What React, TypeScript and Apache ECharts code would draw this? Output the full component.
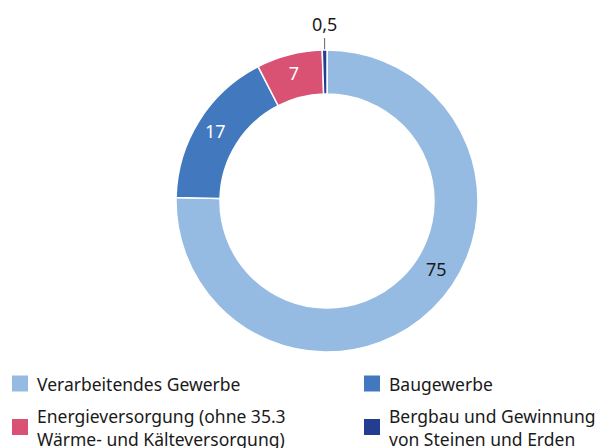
import React, { useEffect, useRef } from "react";
import * as echarts from "echarts";

const categories = [
  "Verarbeitendes Gewerbe",
  "Baugewerbe",
  "Energieversorgung (ohne 35.3 Wärme- und Kälteversorgung)",
  "Bergbau und Gewinnung von Steinen und Erden",
];
const legendLabels = [
  "Verarbeitendes Gewerbe",
  "Baugewerbe",
  "Energieversorgung (ohne 35.3\nWärme- und Kälteversorgung)",
  "Bergbau und Gewinnung\nvon Steinen und Erden",
];
const values = [75, 17, 7, 0.5];
const valueLabels = ["75", "17", "7", "0,5"];
const colors = ["#95BBE3", "#4178BE", "#D95173", "#233D91"];
const labelColors = ["#1a1a1a", "#ffffff", "#ffffff", "#1a1a1a"];

const FONT = "'Noto Sans', 'Open Sans', sans-serif";

export default function App() {
  const ref = useRef<HTMLDivElement>(null);
  useEffect(() => {
    if (!ref.current) return;
    const chart = echarts.init(ref.current, null, { renderer: "svg" });
    const legendPos = [
      { left: 10, top: 372 },
      { left: 362, top: 372 },
      { left: 10, top: 404 },
      { left: 362, top: 404 },
    ];
    chart.setOption({
      animation: false,
      backgroundColor: "#ffffff",
      legend: categories.map((c, i) => ({
        data: [c],
        left: legendPos[i].left,
        top: legendPos[i].top,
        orient: "vertical",
        icon: "rect",
        itemWidth: 18,
        itemHeight: 18,
        itemGap: 6,
        padding: 0,
        selectedMode: false,
        formatter: () => legendLabels[i],
        textStyle: {
          fontFamily: FONT,
          fontSize: 17.5,
          color: "#1a1a1a",
          lineHeight: 23,
          padding: [0, 0, 0, 3],
        },
      })),
      series: [
        {
          type: "pie",
          center: [327, 201],
          radius: [107, 151],
          startAngle: 90,
          clockwise: true,
          avoidLabelOverlap: false,
          itemStyle: { borderColor: "#ffffff", borderWidth: 1.5 },
          label: {
            show: true,
            position: "inside",
            fontFamily: FONT,
            fontSize: 18,
          },
          labelLine: { show: false },
          labelLayout: (params: any) => {
            if (params.dataIndex === 0) {
              return { dx: 17, dy: -26 };
            }
            if (params.dataIndex === 3 && params.labelLinePoints) {
              const p0 = params.labelLinePoints[0];
              const top = p0[1] - 12;
              return {
                x: p0[0],
                y: top - 5,
                align: "center",
                verticalAlign: "bottom",
                labelLinePoints: [p0, [p0[0], top], [p0[0], top]],
              };
            }
            return {};
          },
          data: categories.map((c, i) => ({
            name: c,
            value: values[i],
            itemStyle: { color: colors[i] },
            label: {
              formatter: valueLabels[i],
              color: labelColors[i],
              position: i === 3 ? "outside" : "inside",
            },
            labelLine:
              i === 3
                ? { show: true, length: 12, length2: 0, lineStyle: { color: "#666666", width: 1 } }
                : { show: false },
          })),
        },
      ],
    });
    return () => chart.dispose();
  }, []);
  return (
    <div
      ref={ref}
      style={{ position: "fixed", left: 0, top: 0, width: 600, height: 448 }}
    />
  );
}
